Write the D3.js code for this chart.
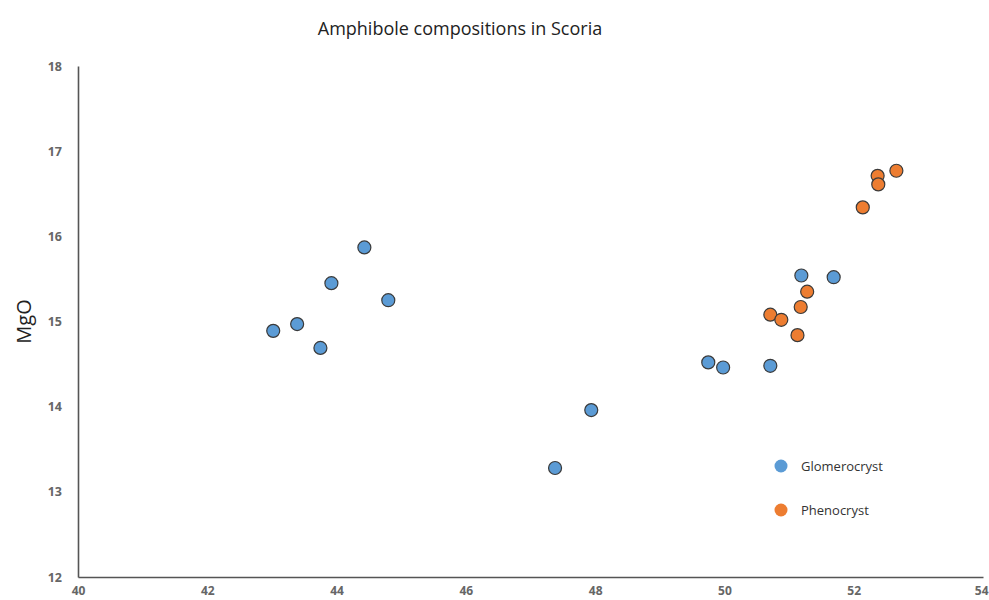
<!DOCTYPE html>
<html>
<head>
<meta charset="utf-8">
<script src="https://cdn.jsdelivr.net/npm/d3@7"></script>
<style>
  html, body { margin: 0; padding: 0; background: #fff; overflow: hidden; }
  svg { display: block; }
</style>
</head>
<body>
<svg id="chart" width="989" height="600"></svg>
<script>
// Amphibole analyses: SiO2 (x) vs MgO (y), wt%
const glomeroSiO2 = [43.02, 43.39, 43.75, 43.92, 44.43, 44.80, 47.38, 47.94, 49.75, 49.98, 50.71, 51.19, 51.69];
const glomeroMgO  = [14.89, 14.97, 14.69, 15.45, 15.87, 15.25, 13.28, 13.96, 14.52, 14.46, 14.48, 15.54, 15.52];
const phenoSiO2   = [50.71, 50.88, 51.13, 51.18, 51.28, 52.14, 52.37, 52.38, 52.66];
const phenoMgO    = [15.08, 15.02, 14.84, 15.17, 15.35, 16.34, 16.71, 16.61, 16.77];
const xTicks = [40, 42, 44, 46, 48, 50, 52, 54];
const yTicks = [12, 13, 14, 15, 16, 17, 18];
const seriesNames = ["Glomerocryst", "Phenocryst"];

const series = [
  { name: seriesNames[0], color: "#5b9bd5", pts: glomeroSiO2.map((v, i) => [v, glomeroMgO[i]]) },
  { name: seriesNames[1], color: "#ed7d31", pts: phenoSiO2.map((v, i) => [v, phenoMgO[i]]) }
];

const svg = d3.select("#chart");
const font = "'Open Sans', 'Noto Sans', sans-serif";

const x = d3.scaleLinear().domain([40, 54]).range([78, 983]);
const y = d3.scaleLinear().domain([12, 18]).range([577, 66]);

// title
svg.append("text")
  .attr("x", 460).attr("y", 35)
  .attr("text-anchor", "middle")
  .attr("font-family", font).attr("font-size", 18)
  .attr("fill", "#222")
  .text("Amphibole compositions in Scoria");

// y axis
const yAxis = svg.append("g")
  .attr("transform", `translate(${x.range()[0]},0)`)
  .call(d3.axisLeft(y).tickValues(yTicks).tickSize(0).tickPadding(16).tickFormat(d3.format("d")));
yAxis.select(".domain").attr("stroke", "#555").attr("stroke-width", 1.6);
yAxis.selectAll("text").attr("font-family", font).attr("font-size", 12.5)
  .attr("font-weight", "bold").attr("fill", "#666");

// x axis (labels sit right at the bottom edge)
const xAxis = svg.append("g")
  .attr("transform", `translate(0,${y.range()[0]})`)
  .call(d3.axisBottom(x).tickValues(xTicks).tickSize(0).tickPadding(9).tickFormat(d3.format("d")));
xAxis.select(".domain").attr("stroke", "#555").attr("stroke-width", 1.6);
xAxis.selectAll("text").attr("font-family", font).attr("font-size", 12)
  .attr("font-weight", "bold").attr("fill", "#666");
// keep the last label inside the frame
xAxis.selectAll(".tick").filter(d => d === xTicks[xTicks.length - 1])
  .select("text").attr("text-anchor", "end").attr("dx", 5);

// y axis title
svg.append("text")
  .attr("transform", `translate(31,${y(15)}) rotate(-90)`)
  .attr("text-anchor", "middle")
  .attr("font-family", font).attr("font-size", 20)
  .attr("fill", "#222")
  .text("MgO");

// points
series.forEach(s => {
  svg.append("g").selectAll("circle")
    .data(s.pts)
    .join("circle")
    .attr("cx", d => x(d[0]))
    .attr("cy", d => y(d[1]))
    .attr("r", 6.5)
    .attr("fill", s.color)
    .attr("stroke", "#3a3a3a")
    .attr("stroke-width", 1.2);
});

// legend
const legend = svg.append("g").attr("transform", "translate(781,466)");
series.forEach((s, i) => {
  const g = legend.append("g").attr("transform", `translate(0,${i * 44})`);
  g.append("circle").attr("r", 6.5).attr("fill", s.color);
  g.append("text").attr("x", 20).attr("y", 4.5)
    .attr("font-family", font).attr("font-size", 13)
    .attr("fill", "#333").text(s.name);
});
</script>
</body>
</html>
